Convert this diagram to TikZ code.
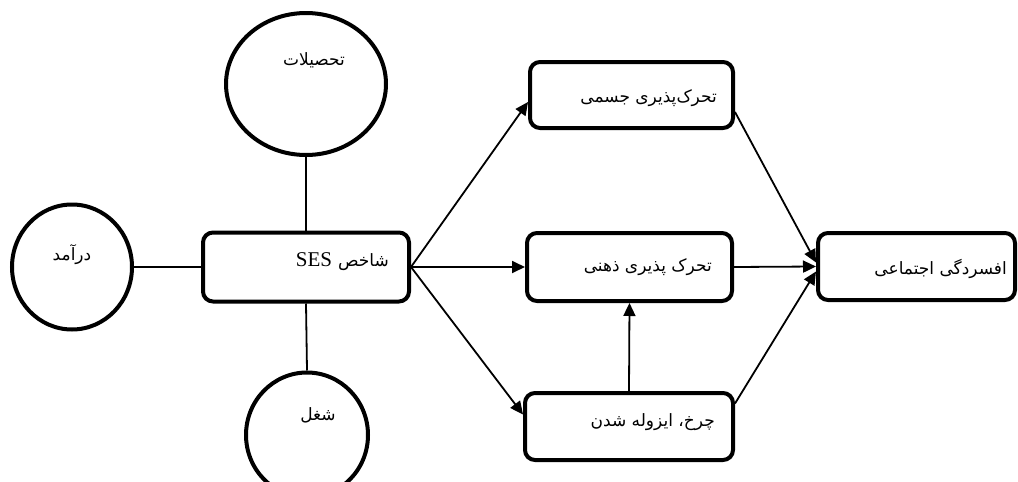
\documentclass[tikz,border=0pt]{standalone}
\usepackage{fontspec}
\setmainfont{Liberation Serif}
\newfontfamily\arabicfont[Script=Arabic]{DejaVu Sans}
\TeXXeTstate=1
\usetikzlibrary{shapes.geometric,arrows.meta,calc}
\begin{document}
\begin{tikzpicture}[x=1pt,y=-1pt,
  box/.style={draw, line width=4pt, rounded corners=10pt, inner sep=0pt},
  circ/.style={draw, ellipse, line width=4pt, inner sep=0pt},
  conn/.style={line width=1.8pt},
  arr/.style={conn, -{Triangle[length=13pt,width=12pt]}},
  fa/.style={font=\arabicfont\fontsize{17}{19}\selectfont, inner sep=0pt}]
\useasboundingbox (0,0) rectangle (1018,482);

% circles
\node[circ, minimum width=160pt, minimum height=142pt] (tahsil) at (306,84) {};
\node[circ, minimum width=120pt, minimum height=125pt] (daramad) at (72,267) {};
\node[circ, minimum width=122pt, minimum height=125pt] (shoghl) at (307,435) {};
\node[fa] (tahsilT) at (314,60) {\beginR تحصیلات\endR};
\node[fa] (daramadT) at (72,255) {\beginR درآمد\endR};
\node[fa] (shoghlT) at (318,415) {\beginR شغل\endR};

% boxes
\node[box, minimum width=206pt, minimum height=69pt] (ses) at (306,267) {};
\node[box, minimum width=203pt, minimum height=66pt] (phys) at (631.5,95) {};
\node[box, minimum width=205pt, minimum height=68pt] (mind) at (629.5,267) {};
\node[box, minimum width=208pt, minimum height=67pt] (isol) at (629,426.5) {};
\node[box, minimum width=197pt, minimum height=67pt] (dep) at (916.5,266.5) {};

\node[inner sep=0pt, anchor=east] (sesT) at ($(ses.east)+(-22,-5)$)
  {{\fontsize{21}{22}\selectfont SES}\hspace{6pt}{\arabicfont\fontsize{17}{19}\selectfont\beginR شاخص\endR}};
\node[fa, anchor=east] (physT) at ($(phys.east)+(-18,3)$) {\beginR تحرک^^^^200cپذیری جسمی\endR};
\node[fa, anchor=east] (mindT) at ($(mind.east)+(-22,0)$) {\beginR تحرک پذیری ذهنی\endR};
\node[fa, anchor=east] (isolT) at ($(isol.east)+(-20,-4)$) {\beginR چرخ، ایزوله شدن\endR};
\node[fa, anchor=east] (depT) at ($(dep.east)+(-10,2)$) {\beginR افسردگی اجتماعی\endR};

% plain connectors
\draw[conn] (daramad.east) -- (ses.west);
\draw[conn] (tahsil.south) -- (ses.north);
\draw[conn] (shoghl.north) -- (ses.south);

% arrows
\draw[arr] (ses.east) -- ([yshift=-7pt]phys.west);
\draw[arr] (ses.east) -- (mind.west);
\draw[arr] (ses.east) -- ([yshift=12pt]isol.west);
\draw[arr] (isol.north) -- (mind.south);
\draw[arr] ([yshift=-17pt]phys.east) -- ([yshift=4pt]dep.west);
\draw[arr] (mind.east) -- (dep.west);
\draw[arr] ([yshift=23pt]isol.east) -- ([yshift=-5pt]dep.west);
\end{tikzpicture}
\end{document}
